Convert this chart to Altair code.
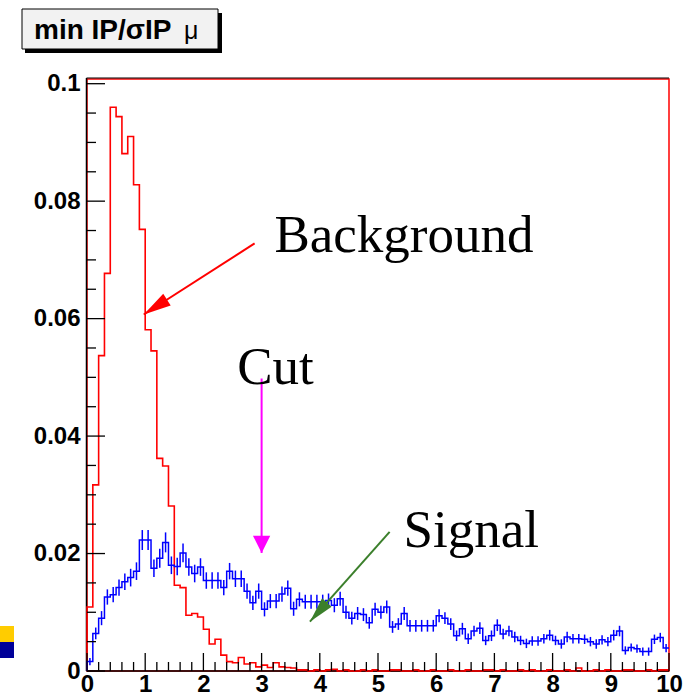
import math
import altair as alt
import pandas as pd

# ---------------- data ----------------
# histogram: 100 bins of width 0.1 on [0, 10]
bin_lo = [i / 10 for i in range(100)]

red_bkg = [
    0.0109, 0.0317, 0.0537, 0.0677, 0.0960, 0.0944, 0.0881, 0.0910, 0.0828, 0.0752,
    0.0581, 0.0545, 0.0362, 0.0349, 0.0281, 0.0146, 0.0142, 0.0095, 0.0098, 0.0092,
    0.0071, 0.0046, 0.0054, 0.0027, 0.0016, 0.0014, 0.0023, 0.0012, 0.0014, 0.0007,
    0.0010, 0.0006, 0.0014, 0.0007, 0.0006, 0.0005, 0.0002, 0.0002, 0.0000, 0.0002,
    0.0000, 0.0002, 0.0003, 0.0000, 0.0002, 0.0000, 0.0000, 0.0002, 0.0000, 0.0002,
    0.0000, 0.0000, 0.0002, 0.0002, 0.0000, 0.0000, 0.0002, 0.0000, 0.0000, 0.0002,
    0.0000, 0.0000, 0.0002, 0.0000, 0.0000, 0.0002, 0.0000, 0.0000, 0.0002, 0.0002,
    0.0000, 0.0002, 0.0000, 0.0000, 0.0002, 0.0000, 0.0002, 0.0000, 0.0000, 0.0002,
    0.0000, 0.0000, 0.0002, 0.0000, 0.0005, 0.0000, 0.0000, 0.0002, 0.0000, 0.0002,
    0.0000, 0.0000, 0.0002, 0.0002, 0.0000, 0.0000, 0.0002, 0.0000, 0.0002, 0.0002,
]

blue_sig = [
    0.0016, 0.0064, 0.0090, 0.0126, 0.0130, 0.0142, 0.0152, 0.0159, 0.0170, 0.0223,
    0.0223, 0.0175, 0.0192, 0.0219, 0.0180, 0.0178, 0.0201, 0.0177, 0.0166, 0.0177,
    0.0154, 0.0154, 0.0154, 0.0142, 0.0170, 0.0157, 0.0157, 0.0136, 0.0116, 0.0136,
    0.0105, 0.0119, 0.0119, 0.0131, 0.0141, 0.0106, 0.0122, 0.0118, 0.0118, 0.0118,
    0.0118, 0.0120, 0.0112, 0.0123, 0.0100, 0.0090, 0.0098, 0.0096, 0.0082, 0.0105,
    0.0100, 0.0109, 0.0075, 0.0080, 0.0098, 0.0077, 0.0077, 0.0077, 0.0077, 0.0077,
    0.0094, 0.0090, 0.0080, 0.0060, 0.0072, 0.0055, 0.0068, 0.0073, 0.0052, 0.0060,
    0.0078, 0.0063, 0.0068, 0.0058, 0.0052, 0.0047, 0.0051, 0.0051, 0.0055, 0.0061,
    0.0052, 0.0046, 0.0058, 0.0055, 0.0055, 0.0054, 0.0050, 0.0046, 0.0053, 0.0050,
    0.0061, 0.0068, 0.0035, 0.0040, 0.0038, 0.0033, 0.0033, 0.0054, 0.0057, 0.0039,
]

blue_err = [
    0.0006, 0.0010, 0.0012, 0.0013, 0.0013, 0.0014, 0.0014, 0.0015, 0.0015, 0.0017,
    0.0017, 0.0015, 0.0016, 0.0017, 0.0015, 0.0015, 0.0016, 0.0015, 0.0015, 0.0015,
    0.0014, 0.0014, 0.0014, 0.0013, 0.0014, 0.0014, 0.0014, 0.0013, 0.0012, 0.0013,
    0.0012, 0.0012, 0.0012, 0.0013, 0.0013, 0.0012, 0.0012, 0.0012, 0.0012, 0.0012,
    0.0012, 0.0012, 0.0012, 0.0012, 0.0011, 0.0011, 0.0011, 0.0011, 0.0010, 0.0011,
    0.0011, 0.0011, 0.0010, 0.0010, 0.0011, 0.0010, 0.0010, 0.0010, 0.0010, 0.0010,
    0.0011, 0.0010, 0.0010, 0.0009, 0.0010, 0.0009, 0.0009, 0.0010, 0.0008, 0.0009,
    0.0010, 0.0009, 0.0009, 0.0009, 0.0008, 0.0008, 0.0008, 0.0008, 0.0008, 0.0009,
    0.0008, 0.0008, 0.0009, 0.0008, 0.0008, 0.0008, 0.0008, 0.0008, 0.0008, 0.0008,
    0.0009, 0.0009, 0.0007, 0.0007, 0.0007, 0.0007, 0.0007, 0.0008, 0.0008, 0.0007,
]

x_tick_labels = [0, 1, 2, 3, 4, 5, 6, 7, 8, 9, 10]
y_tick_labels = [0, 0.02, 0.04, 0.06, 0.08, 0.1]
x_minor = [0.2, 0.4, 0.6, 0.8]          # minor ticks inside each unit
y_minor = [0.005, 0.01, 0.015]          # minor ticks inside each 0.02 step

# annotations (data coordinates)
ann_text = ["Background", "Cut", "Signal"]
ann_x = [3.22, 2.58, 5.44]
ann_y = [0.0713, 0.0489, 0.0211]

arrow_names = ["bkg", "cut", "sig"]
arrow_x0 = [2.88, 3.0, 5.20]
arrow_y0 = [0.0728, 0.0498, 0.0237]
arrow_x1 = [0.975, 3.0, 3.83]
arrow_y1 = [0.0607, 0.0201, 0.0084]
arrow_col = ["#ff0000", "#ff00ff", "#3b7f2b"]

title_main = "min IP/\u03c3IP"
title_mu = "\u03bc"

# ---------------- layout ----------------
W, H = 582, 592
X_DOM = [0, 10]
Y_DOM = [0, 0.1008]
FONT = "Liberation Sans"

xs = alt.Scale(domain=X_DOM, nice=False, zero=False)
ys = alt.Scale(domain=Y_DOM, nice=False, zero=False)
x_axis = alt.Axis(values=x_tick_labels, format="d", ticks=False, domain=False, grid=False,
                  labelPadding=1, title=None, labelFlush=False)
y_axis = alt.Axis(values=y_tick_labels, format=".2~f", ticks=False, domain=False, grid=False,
                  labelPadding=7, title=None)


def X(f):
    return alt.X(f, type="quantitative", scale=xs, axis=x_axis)


def Y(f):
    return alt.Y(f, type="quantitative", scale=ys, axis=y_axis)


def step_df(vals):
    rows = [{"i": 0, "x": 0.0, "v": 0.0}]
    for k, v in enumerate(vals):
        rows.append({"i": k + 1, "x": bin_lo[k], "v": v})
    rows.append({"i": len(vals) + 1, "x": 10.0, "v": vals[-1]})
    return pd.DataFrame(rows)


one = pd.DataFrame({"a": [0]})

# frame lines (black axes on left, bottom, top)
left_line = alt.Chart(one).mark_rule(color="black", strokeWidth=1.5).encode(
    x=alt.value(-0.5), y=alt.value(-1), y2=alt.value(H))
bottom_line = alt.Chart(one).mark_rule(color="black", strokeWidth=1.5).encode(
    x=alt.value(-0.5), x2=alt.value(W), y=alt.value(H))
top_line = alt.Chart(one).mark_rule(color="black", strokeWidth=1.2).encode(
    x=alt.value(-0.5), x2=alt.value(W), y=alt.value(-1))

red_line = alt.Chart(step_df(red_bkg)).mark_line(
    interpolate="step-after", color="#ff0000", strokeWidth=1.6).encode(
    x=X("x"), y=Y("v"), order="i:Q")

blue_line = alt.Chart(step_df(blue_sig)).mark_line(
    interpolate="step-after", color="#0000ff", strokeWidth=1.5).encode(
    x=X("x"), y=Y("v"), order="i:Q")

err_df = pd.DataFrame({
    "c": [b + 0.05 for b in bin_lo],
    "lo": [v - e for v, e in zip(blue_sig, blue_err)],
    "hi": [v + e for v, e in zip(blue_sig, blue_err)],
})
blue_err_bars = alt.Chart(err_df).mark_rule(color="#0000ff", strokeWidth=1.5).encode(
    x=X("c"), y=Y("lo"), y2="hi:Q")

# inward ticks
xt_major = pd.DataFrame({"t": x_tick_labels})
xt_minor = pd.DataFrame({"t": [u + m for u in range(10) for m in x_minor]})
yt_major = pd.DataFrame({"t": y_tick_labels})
yt_minor = pd.DataFrame({"t": [round(s + m, 4) for s in y_tick_labels[:-1] for m in y_minor]})

xtick_maj = alt.Chart(xt_major).mark_rule(color="black", strokeWidth=1.3).encode(
    x=X("t"), y=alt.value(H), y2=alt.value(H - 18))
xtick_min = alt.Chart(xt_minor).mark_rule(color="black", strokeWidth=1.3).encode(
    x=X("t"), y=alt.value(H), y2=alt.value(H - 9))
ytick_maj = alt.Chart(yt_major).mark_rule(color="black", strokeWidth=1.3).encode(
    y=Y("t"), x=alt.value(0), x2=alt.value(18))
ytick_min = alt.Chart(yt_minor).mark_rule(color="black", strokeWidth=1.3).encode(
    y=Y("t"), x=alt.value(0), x2=alt.value(9))

# arrows
px_per_x = W / (X_DOM[1] - X_DOM[0])
px_per_y = H / (Y_DOM[1] - Y_DOM[0])
angles = []
for x0, y0, x1, y1 in zip(arrow_x0, arrow_y0, arrow_x1, arrow_y1):
    dx = (x1 - x0) * px_per_x
    dy = -(y1 - y0) * px_per_y
    angles.append(math.degrees(math.atan2(dx, -dy)) % 360)

arr_df = pd.DataFrame({"name": arrow_names, "x0": arrow_x0, "y0": arrow_y0,
                       "x1": arrow_x1, "y1": arrow_y1, "col": arrow_col, "ang": angles})
arrow_lines = alt.Chart(arr_df).mark_rule(strokeWidth=2).encode(
    x=X("x0"), y=Y("y0"), x2="x1:Q", y2="y1:Q", color=alt.Color("col:N", scale=None))

slim_head = "M0,0L-0.5,2L0.5,2Z"
wide_head = "M0,0L-1,2L1,2Z"
head_bkg = alt.Chart(arr_df[arr_df.name == "bkg"]).mark_point(
    shape=slim_head, filled=True, size=760, opacity=1, strokeWidth=0).encode(
    x=X("x1"), y=Y("y1"), angle=alt.Angle("ang:Q", scale=None), color=alt.Color("col:N", scale=None))
head_sig = alt.Chart(arr_df[arr_df.name == "sig"]).mark_point(
    shape=slim_head, filled=True, size=650, opacity=1, strokeWidth=0).encode(
    x=X("x1"), y=Y("y1"), angle=alt.Angle("ang:Q", scale=None), color=alt.Color("col:N", scale=None))
head_cut = alt.Chart(arr_df[arr_df.name == "cut"]).mark_point(
    shape=wide_head, filled=True, size=300, opacity=1, strokeWidth=0).encode(
    x=X("x1"), y=Y("y1"), angle=alt.Angle("ang:Q", scale=None), color=alt.Color("col:N", scale=None))

ann_df = pd.DataFrame({"t": ann_text, "x": ann_x, "y": ann_y})
ann = alt.Chart(ann_df).mark_text(
    font="Liberation Serif", fontSize=53, align="left", baseline="alphabetic", color="black").encode(
    x=X("x"), y=Y("y"), text="t:N")

# title box (outside the plot area, above-left)
box_shadow = alt.Chart(one).mark_rect(color="black").encode(
    x=alt.value(-62), x2=alt.value(135), y=alt.value(-66), y2=alt.value(-26))
box = alt.Chart(one).mark_rect(fill="#f2f2f2", stroke="black", strokeWidth=1).encode(
    x=alt.value(-65), x2=alt.value(131), y=alt.value(-70), y2=alt.value(-30))
title_txt = alt.Chart(one).mark_text(
    text=title_main, font=FONT, fontWeight="bold", fontSize=28, align="left",
    baseline="alphabetic", color="black").encode(x=alt.value(-53), y=alt.value(-40))
title_mu_txt = alt.Chart(one).mark_text(
    text=title_mu, font=FONT, fontSize=25, align="left",
    baseline="alphabetic", color="black").encode(x=alt.value(97), y=alt.value(-40))

# slide-template squares at bottom left
sq_yellow = alt.Chart(one).mark_rect(color="#ffcc00").encode(
    x=alt.value(-87), x2=alt.value(-73), y=alt.value(547), y2=alt.value(563))
sq_blue = alt.Chart(one).mark_rect(color="#000099").encode(
    x=alt.value(-87), x2=alt.value(-73), y=alt.value(563), y2=alt.value(579))

chart = alt.layer(
    left_line, bottom_line, top_line,
    red_line, blue_line, blue_err_bars,
    xtick_maj, xtick_min, ytick_maj, ytick_min,
    arrow_lines, head_bkg, head_sig, head_cut, ann,
    box_shadow, box, title_txt, title_mu_txt, sq_yellow, sq_blue,
).properties(
    width=W, height=H,
    autosize=alt.AutoSizeParams(type="none"),
    padding={"left": 87, "top": 79, "right": 27, "bottom": 27},
    background="white",
).configure_view(
    stroke="#ff0000", strokeWidth=1.5
).configure_axis(
    labelFont=FONT, labelFontWeight="bold", labelFontSize=24, labelColor="black"
)

chart.save("out.html", embed_options={"renderer": "svg", "actions": False})
